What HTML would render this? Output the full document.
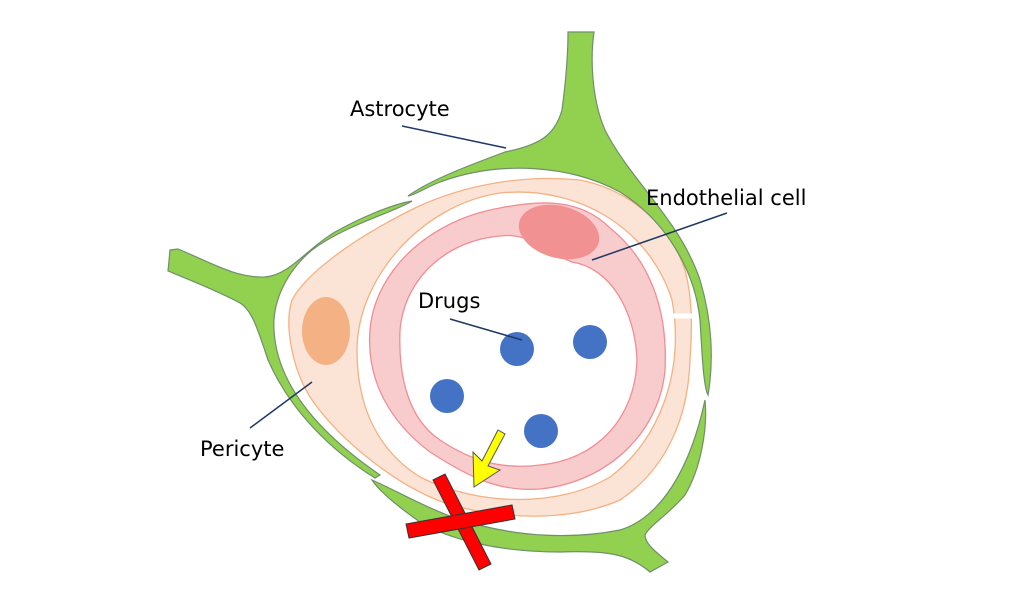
<!DOCTYPE html>
<html><head><meta charset="utf-8"><style>
html,body{margin:0;padding:0;background:#fff;}
svg{display:block;}
text{font-family:"DejaVu Sans","Liberation Sans",sans-serif;font-size:21px;fill:#000;}
</style></head><body>
<svg width="1024" height="611" viewBox="0 0 1024 611" xmlns="http://www.w3.org/2000/svg">
<path fill="#fbe3d6" stroke="#f4b183" stroke-width="1.3" fill-rule="evenodd" d="M292,300 C305,275 350,240 415,208 C470,182 530,175 580,180 C630,190 670,225 685,270 C693,300 692,330 690,360 C688,420 665,470 620,500 C570,522 500,520 445,503 C395,485 340,440 312,400 C292,370 284,325 292,300 Z M357,350 C357,280 420,205 500,193 C580,185 650,230 672,300 C685,370 660,440 610,477 C560,507 480,507 420,477 C380,452 357,410 357,350 Z"/>
<path d="M670,316 L696,316" stroke="#fff" stroke-width="5"/>
<g fill="#92d050" stroke="#6f8f6a" stroke-width="1.2">
<path d="M408,196 C430,180 470,165 505,152 C540,145 555,135 562,110 C566,80 568,50 568,32 L594,32 C590,60 592,100 605,130 C630,180 680,220 700,280 C712,320 714,360 708,395 C703,385 702,350 700,320 C695,270 665,220 620,192 C570,165 500,160 440,182 C425,188 415,195 408,196 Z"/>
<path d="M170,250 L178,249 C210,262 235,278 265,277 C290,275 305,250 335,232 C360,218 390,205 412,201 C395,212 345,225 312,250 C288,270 272,300 274,330 C276,370 300,420 380,475 L375,478 C330,450 290,410 268,360 C258,330 252,310 240,303 C220,292 190,280 168,271 Z"/>
<path d="M372,480 C395,490 420,505 455,518 C520,540 580,538 620,530 C660,518 690,470 705,400 C708,430 700,470 685,495 C668,515 650,525 645,535 C645,545 660,555 668,562 L650,572 C630,555 610,550 560,552 C500,552 450,540 420,522 C400,508 380,492 372,480 Z"/>
</g>
<ellipse cx="326" cy="331" rx="24" ry="34" fill="#f4b183"/>
<path fill="#f8cbcd" stroke="#ee8f94" stroke-width="1.3" fill-rule="evenodd" d="M370,330 C375,270 430,220 500,208 C540,200 580,198 610,228 C650,260 668,310 665,370 C660,430 610,482 540,489 C500,492 470,478 430,452 C390,422 366,380 370,330 Z M400,330 C405,275 450,240 500,236 C530,232 545,252 572,262 C610,268 635,310 637,360 C635,420 595,460 540,465 C500,470 470,460 440,440 C410,420 398,380 400,330 Z"/>
<ellipse cx="559" cy="232" rx="41" ry="26" transform="rotate(15 559 232)" fill="#f29191"/>
<g fill="#4472c4"><circle cx="517" cy="349" r="17"/><circle cx="590" cy="342" r="17"/><circle cx="447" cy="396" r="17"/><circle cx="541" cy="431" r="17"/></g>
<path d="M498,430 L505,434 L488,466 L500,470 L474,487 L473,452 L482,461 Z" fill="#ffff00" stroke="#555" stroke-width="1"/>
<g fill="#ff0000" stroke="#333" stroke-width="1">
<polygon points="433,480 445,474 491,564 479,570"/>
<polygon points="406,524 512,505 515,519 409,538"/>
</g>
<g stroke="#1f3864" stroke-width="1.5">
<line x1="402" y1="126" x2="506" y2="148"/>
<line x1="727" y1="213" x2="592" y2="260"/>
<line x1="450" y1="319" x2="522" y2="340"/>
<line x1="250" y1="428" x2="312" y2="382"/>
</g>
<text x="350" y="116">Astrocyte</text>
<text x="646" y="205">Endothelial cell</text>
<text x="418" y="308">Drugs</text>
<text x="200" y="456">Pericyte</text>
</svg>
</body></html>
